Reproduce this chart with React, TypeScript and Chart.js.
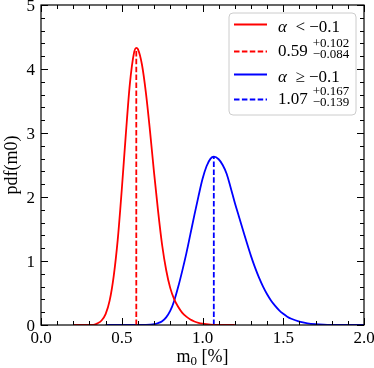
import { useEffect, useRef } from 'react';
import { Chart, registerables } from 'chart.js';

Chart.register(...registerables);

// ---- data ----
const redX = [0.20, 0.30, 0.325, 0.35, 0.375, 0.40, 0.425, 0.45, 0.475, 0.50, 0.525, 0.55, 0.575, 0.59, 0.60, 0.625, 0.65, 0.675, 0.70, 0.725, 0.75, 0.775, 0.80, 0.825, 0.85, 0.875, 0.90, 0.925, 0.95, 0.975, 1.00, 1.05, 1.10, 1.15, 1.20];
const redY = [0, 0, 0.003, 0.026, 0.07, 0.17, 0.38, 0.76, 1.33, 2.11, 2.97, 3.76, 4.24, 4.33, 4.31, 4.07, 3.62, 3.03, 2.38, 1.78, 1.25, 0.86, 0.58, 0.40, 0.28, 0.19, 0.13, 0.085, 0.055, 0.033, 0.02, 0.006, 0.0015, 0, 0];

const blueX = [0.40, 0.60, 0.65, 0.675, 0.70, 0.725, 0.75, 0.775, 0.80, 0.825, 0.85, 0.875, 0.90, 0.925, 0.95, 0.975, 1.00, 1.025, 1.05, 1.07, 1.10, 1.125, 1.15, 1.175, 1.20, 1.225, 1.25, 1.275, 1.30, 1.325, 1.35, 1.375, 1.40, 1.425, 1.45, 1.475, 1.50, 1.525, 1.55, 1.60, 1.65, 1.70, 1.75, 1.80, 1.85, 1.90, 2.00];
const blueY = [0, 0, 0.002, 0.005, 0.012, 0.03, 0.06, 0.12, 0.22, 0.38, 0.60, 0.85, 1.12, 1.42, 1.72, 2.01, 2.28, 2.48, 2.60, 2.63, 2.59, 2.50, 2.36, 2.14, 1.91, 1.70, 1.49, 1.28, 1.08, 0.90, 0.74, 0.60, 0.48, 0.38, 0.30, 0.23, 0.175, 0.13, 0.097, 0.052, 0.027, 0.014, 0.007, 0.003, 0.001, 0, 0];

const medians = [0.59, 1.07];
const medianHeights = [4.33, 2.63];
const errUp = ['+0.102', '+0.167'];
const errDown = ['−0.084', '−0.139'];
const groupRel = ['<', '≥'];
const groupThreshold = '−0.1';
const colors = ['#ff0000', '#0000ff'];

const xTickValues = [0, 0.5, 1.0, 1.5, 2.0];
const xTickLabels = ['0.0', '0.5', '1.0', '1.5', '2.0'];
const yTickValues = [0, 1, 2, 3, 4, 5];
const yTickLabels = ['0', '1', '2', '3', '4', '5'];

const xMin = 0, xMax = 2.0, xStep = 0.5, xMinor = 0.1;
const yMin = 0, yMax = 5, yStep = 1, yMinor = 0.2;

const FONT = '"Liberation Serif", "DejaVu Serif", serif';
const DASH = [5.5, 2.4];
const LW = 1.8;

function drawParts(ctx: CanvasRenderingContext2D, x: number, y: number, parts: { t: string; italic?: boolean; size: number; dy?: number }[]) {
  let cx = x;
  for (const p of parts) {
    ctx.font = `${p.italic ? 'italic ' : ''}${p.size}px ${FONT}`;
    ctx.fillText(p.t, cx, y + (p.dy || 0));
    cx += ctx.measureText(p.t).width;
  }
  return cx;
}

const decorPlugin = {
  id: 'decor',
  afterDraw(chart: any) {
    const { ctx, chartArea, scales } = chart;
    const { left, right, top, bottom } = chartArea;
    const xs = scales.x, ys = scales.y;
    ctx.save();
    ctx.strokeStyle = '#000';
    ctx.lineWidth = 1;
    // inward ticks
    const nx = Math.round((xMax - xMin) / xMinor);
    for (let i = 0; i <= nx; i++) {
      const v = xMin + i * xMinor;
      const major = Math.abs(v / xStep - Math.round(v / xStep)) < 1e-6;
      const L = major ? 7 : 4;
      const px = Math.round(xs.getPixelForValue(v)) + 0.5;
      ctx.beginPath();
      ctx.moveTo(px, bottom); ctx.lineTo(px, bottom - L);
      ctx.moveTo(px, top); ctx.lineTo(px, top + L);
      ctx.stroke();
    }
    const ny = Math.round((yMax - yMin) / yMinor);
    for (let i = 0; i <= ny; i++) {
      const v = yMin + i * yMinor;
      const major = Math.abs(v / yStep - Math.round(v / yStep)) < 1e-6;
      const L = major ? 7 : 4;
      const py = Math.round(ys.getPixelForValue(v)) + 0.5;
      ctx.beginPath();
      ctx.moveTo(left, py); ctx.lineTo(left + L, py);
      ctx.moveTo(right, py); ctx.lineTo(right - L, py);
      ctx.stroke();
    }
    ctx.lineWidth = 1.2;
    ctx.strokeRect(left, top, right - left, bottom - top);

    // tick labels
    ctx.fillStyle = '#000';
    ctx.font = `17px ${FONT}`;
    ctx.textBaseline = 'alphabetic';
    ctx.textAlign = 'center';
    xTickValues.forEach((v, i) => {
      ctx.fillText(xTickLabels[i], xs.getPixelForValue(v), bottom + 18);
    });
    ctx.textAlign = 'right';
    yTickValues.forEach((v, i) => {
      ctx.fillText(yTickLabels[i], left - 6, ys.getPixelForValue(v) + 6);
    });

    // axis titles
    ctx.textAlign = 'left';
    const cxMid = (left + right) / 2;
    ctx.font = `18px ${FONT}`;
    const wM = ctx.measureText('m').width;
    ctx.font = `13px ${FONT}`;
    const w0 = ctx.measureText('0').width;
    ctx.font = `18px ${FONT}`;
    const wR = ctx.measureText(' [%]').width;
    const total = wM + w0 + wR;
    drawParts(ctx, cxMid - total / 2, 362, [
      { t: 'm', size: 18 },
      { t: '0', size: 13, dy: 3 },
      { t: ' [%]', size: 18 },
    ]);
    ctx.save();
    ctx.translate(17, (top + bottom) / 2);
    ctx.rotate(-Math.PI / 2);
    ctx.textAlign = 'center';
    ctx.font = `18px ${FONT}`;
    ctx.fillText('pdf(m0)', 0, 0);
    ctx.restore();

    // legend
    const bx = 229, by = 13, bw = 127, bh = 102, r = 4;
    ctx.beginPath();
    ctx.moveTo(bx + r, by);
    ctx.arcTo(bx + bw, by, bx + bw, by + bh, r);
    ctx.arcTo(bx + bw, by + bh, bx, by + bh, r);
    ctx.arcTo(bx, by + bh, bx, by, r);
    ctx.arcTo(bx, by, bx + bw, by, r);
    ctx.closePath();
    ctx.fillStyle = 'rgba(255,255,255,0.8)';
    ctx.fill();
    ctx.strokeStyle = '#cccccc';
    ctx.lineWidth = 1;
    ctx.stroke();

    const rows = [24.5, 51.5, 74.5, 99.5];
    for (let g = 0; g < 2; g++) {
      const ySolid = rows[g * 2];
      const yDash = rows[g * 2 + 1];
      ctx.strokeStyle = colors[g];
      ctx.lineWidth = LW;
      ctx.setLineDash([]);
      ctx.beginPath(); ctx.moveTo(234, ySolid); ctx.lineTo(267, ySolid); ctx.stroke();
      ctx.setLineDash(DASH);
      ctx.beginPath(); ctx.moveTo(234, yDash); ctx.lineTo(267, yDash); ctx.stroke();
      ctx.setLineDash([]);
      ctx.fillStyle = '#000';
      drawParts(ctx, 278, ySolid + 7, [
        { t: 'α', italic: true, size: 17 },
        { t: `  ${groupRel[g]} ${groupThreshold}`, size: 17 },
      ]);
      const endX = drawParts(ctx, 278, yDash + 4, [{ t: medians[g].toFixed(2), size: 17 }]);
      ctx.font = `13px ${FONT}`;
      ctx.fillText(errUp[g], endX + 5, yDash - 5);
      ctx.fillText(errDown[g], endX + 5, yDash + 6.5);
    }
    ctx.restore();
  },
};

export default function App() {
  const ref = useRef<HTMLCanvasElement | null>(null);
  useEffect(() => {
    if (!ref.current) return;
    const datasets: any[] = [
      {
        data: redX.map((x, i) => ({ x, y: redY[i] })),
        borderColor: colors[0], borderWidth: LW, pointRadius: 0, cubicInterpolationMode: 'monotone',
      },
      {
        data: [{ x: medians[0], y: 0 }, { x: medians[0], y: medianHeights[0] }],
        borderColor: colors[0], borderWidth: LW, pointRadius: 0, borderDash: DASH,
      },
      {
        data: blueX.map((x, i) => ({ x, y: blueY[i] })),
        borderColor: colors[1], borderWidth: LW, pointRadius: 0, cubicInterpolationMode: 'monotone',
      },
      {
        data: [{ x: medians[1], y: 0 }, { x: medians[1], y: medianHeights[1] }],
        borderColor: colors[1], borderWidth: LW, pointRadius: 0, borderDash: DASH,
      },
    ];
    const chart = new Chart(ref.current, {
      type: 'line',
      data: { datasets },
      options: {
        animation: false,
        responsive: true,
        maintainAspectRatio: false,
        layout: { padding: { left: 0, right: 10, top: 5, bottom: 0 } },
        plugins: { legend: { display: false }, tooltip: { enabled: false } },
        scales: {
          x: {
            type: 'linear', min: xMin, max: xMax,
            grid: { display: false }, border: { display: false },
            ticks: { display: false, stepSize: xStep },
            afterFit: (s: any) => { s.height = 43; },
          },
          y: {
            type: 'linear', min: yMin, max: yMax,
            grid: { display: false }, border: { display: false },
            ticks: { display: false, stepSize: yStep },
            afterFit: (s: any) => { s.width = 41; },
          },
        },
      },
      plugins: [decorPlugin],
    });
    return () => chart.destroy();
  }, []);
  return (
    <div style={{ position: 'fixed', left: 0, top: 0, width: 374, height: 368 }}>
      <canvas ref={ref} />
    </div>
  );
}
